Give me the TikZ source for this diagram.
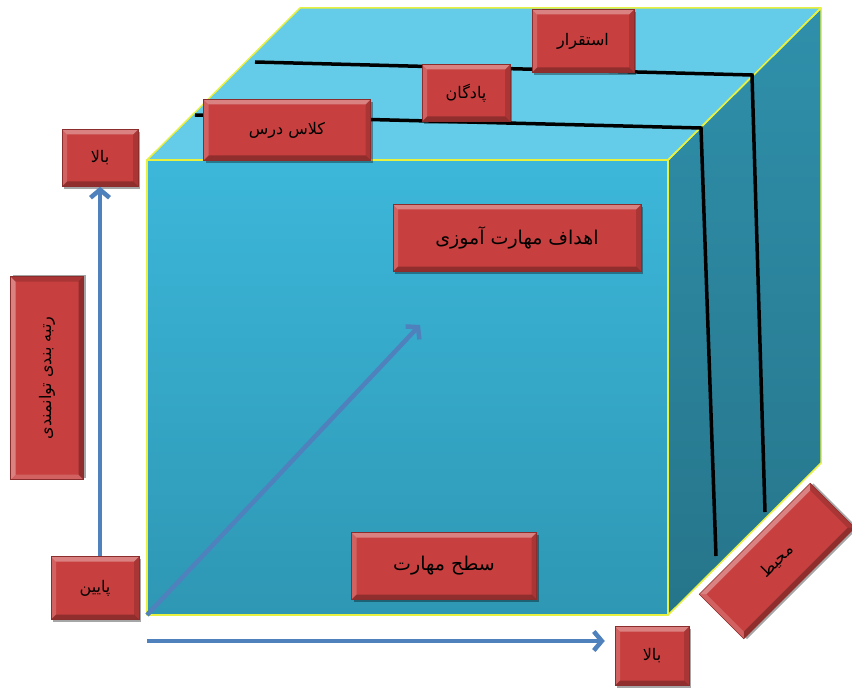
\documentclass[tikz,border=0pt]{standalone}
\usepackage{fontspec}
\newfontfamily\arabicfont[Script=Arabic]{DejaVu Sans}
\TeXXeTstate=1
\usetikzlibrary{arrows.meta,shadows}
\definecolor{frontTop}{HTML}{3CB7DA}
\definecolor{frontBot}{HTML}{2E97B4}
\definecolor{topFace}{HTML}{64CCE8}
\definecolor{sideTop}{HTML}{2F90AB}
\definecolor{sideBot}{HTML}{26758A}
\definecolor{edgeYellow}{HTML}{E8F040}
\definecolor{boxRed}{HTML}{C7403F}
\definecolor{arrowBlue}{HTML}{4F81BD}
\newcommand{\rtl}[1]{\beginR #1\endR}
\tikzset{
  face/.style={draw=edgeYellow, line width=1.5pt, line join=round},
  blackline/.style={draw=black, line width=3.5pt, line join=miter},
  arr/.style={draw=arrowBlue, line width=4.5pt, -{Straight Barb[length=8pt,width=19pt]}},
  redbox/.style={fill=boxRed, draw=boxRed!70!black, line width=0.5pt, inner sep=0pt,
     font=\arabicfont\fontsize{16}{19}\selectfont, text=black,
     drop shadow={shadow xshift=2pt, shadow yshift=-2.5pt, opacity=0.35, fill=black},
     path picture={
       \fill[white,opacity=.35] (path picture bounding box.north west) -- (path picture bounding box.north east) -- ([shift={(-5pt,-5pt)}]path picture bounding box.north east) -- ([shift={(5pt,-5pt)}]path picture bounding box.north west) -- cycle;
       \fill[white,opacity=.18] (path picture bounding box.north west) -- ([shift={(5pt,-5pt)}]path picture bounding box.north west) -- ([shift={(5pt,5pt)}]path picture bounding box.south west) -- (path picture bounding box.south west) -- cycle;
       \fill[black,opacity=.28] (path picture bounding box.south west) -- ([shift={(5pt,5pt)}]path picture bounding box.south west) -- ([shift={(-5pt,5pt)}]path picture bounding box.south east) -- (path picture bounding box.south east) -- cycle;
       \fill[black,opacity=.15] (path picture bounding box.south east) -- ([shift={(-5pt,5pt)}]path picture bounding box.south east) -- ([shift={(-5pt,-5pt)}]path picture bounding box.north east) -- (path picture bounding box.north east) -- cycle;
     }},
  bigtext/.style={font=\arabicfont\fontsize{19}{22}\selectfont},
}
\begin{document}
\begin{tikzpicture}[x=1pt,y=-1pt]
\useasboundingbox[fill=white] (0,0) rectangle (852,690);
% cube corners
\coordinate (F1) at (147,160);
\coordinate (F2) at (668,160);
\coordinate (F3) at (668,615);
\coordinate (F4) at (147,615);
\coordinate (B1) at (300,8);
\coordinate (B2) at (821,8);
\coordinate (B3) at (821,463);
% faces
\fill[topFace] (F1) -- (F2) -- (B2) -- (B1) -- cycle;
\shade[top color=sideTop, bottom color=sideBot] (F2) -- (B2) -- (B3) -- (F3) -- cycle;
\shade[top color=frontTop, bottom color=frontBot] (F1) -- (F2) -- (F3) -- (F4) -- cycle;
\draw[face] (F1) -- (F2) -- (B2) -- (B1) -- cycle;
\draw[face] (F2) -- (B2) -- (B3) -- (F3) -- cycle;
\draw[face] (F1) -- (F2) -- (F3) -- (F4) -- cycle;
% black lines
\coordinate (LA1) at (255,62);
\coordinate (LA2) at (752,75);
\coordinate (LA3) at (765,512);
\coordinate (LB1) at (195,115);
\coordinate (LB2) at (701,128);
\coordinate (LB3) at (716,556);
\draw[blackline] (LA1) -- (LA2) -- (LA3);
\draw[blackline] (LB1) -- (LB2) -- (LB3);
% boxes
\node[redbox, minimum width=102pt, minimum height=63pt] (istiqrar) at (583,41) {\rtl{استقرار}};
\node[redbox, minimum width=88pt, minimum height=57pt] (padegan) at (466,93) {\rtl{پادگان}};
\node[redbox, minimum width=167pt, minimum height=61pt] (kelas) at (287,130) {\rtl{کلاس درس}};
\node[redbox, minimum width=76pt, minimum height=57pt] (bala1) at (100,158) {\rtl{بالا}};
\node[redbox, minimum width=88pt, minimum height=63pt] (payin) at (95,588) {\rtl{پایین}};
\node[redbox, bigtext, minimum width=248pt, minimum height=67pt] (ahdaf) at (517,238) {\rtl{اهداف مهارت آموزی}};
\node[redbox, bigtext, minimum width=185pt, minimum height=67pt] (sath) at (444,566) {\rtl{سطح مهارت}};
\node[redbox, minimum width=74pt, minimum height=59pt] (bala2) at (652,656) {\rtl{بالا}};
\begin{scope}[transform canvas={shift={(47,378)},rotate=90}]
\node[redbox, minimum width=203pt, minimum height=73pt] (rank) at (0,0) {\rtl{رتبه بندی توانمندی}};
\end{scope}
\begin{scope}[transform canvas={shift={(777,561)},rotate=45}]
\node[redbox, minimum width=157pt, minimum height=63pt] (mohit) at (0,0) {\rtl{محیط}};
\end{scope}
% arrows
\coordinate (hstart) at (147,641);
\coordinate (dend) at (420,325);
\draw[arr] (payin.north -| bala1.south) -- (bala1.south);
\draw[arr, shorten >=10pt] (hstart) -- (hstart -| bala2.west);
\draw[arr] (F4) -- (dend);
\end{tikzpicture}
\end{document}
